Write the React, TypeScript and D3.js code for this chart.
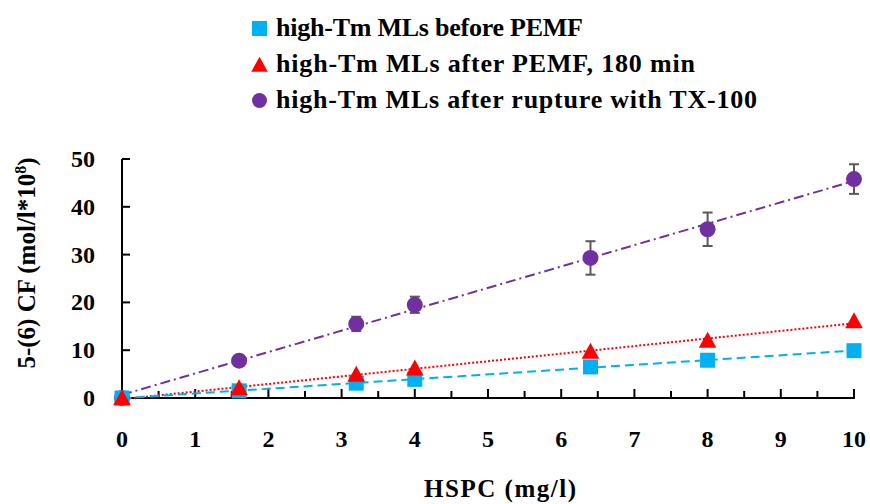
import React from "react";
import * as d3 from "d3";

const xValues = [0, 1.6, 3.2, 4, 6.4, 8, 10];
const beforePEMF = [0, 1.5, 3.1, 3.9, 6.5, 7.9, 9.9];
const afterPEMF = [0, 2.1, 4.9, 6.2, 9.7, 12.0, 16.1];
const afterTX = [0, 7.8, 15.5, 19.5, 29.3, 35.3, 45.8];
const afterTXErr = [0, 0.6, 1.5, 1.7, 3.5, 3.5, 3.1];
const xTicks = [0, 1, 2, 3, 4, 5, 6, 7, 8, 9, 10];
const yTicks = [0, 10, 20, 30, 40, 50];
const legendLabels = [
  "high-Tm MLs before PEMF",
  "high-Tm MLs after PEMF, 180 min",
  "high-Tm MLs after rupture with TX-100",
];

// layout: rendered widths of legend rows in the reference
const legendWidths = [307, 419, 481];

const BLUE = "#00B0F0";
const RED = "#FF0000";
const PURPLE = "#7030A0";
const FONT = "'Liberation Serif', 'Times New Roman', serif";

function fit(xs: number[], ys: number[]) {
  const mx = d3.mean(xs)!;
  const my = d3.mean(ys)!;
  let num = 0, den = 0;
  xs.forEach((x, i) => { num += (x - mx) * (ys[i] - my); den += (x - mx) ** 2; });
  const b = num / den;
  return { a: my - b * mx, b };
}

export default function App() {
  const x = d3.scaleLinear().domain([0, 10]).range([122, 854]);
  const y = d3.scaleLinear().domain([0, 50]).range([398, 159]);
  const minor = d3.range(0.5, 10, 1);

  const trend = (ys: number[], color: string, dash: string, w: number) => {
    const { a, b } = fit(xValues, ys);
    const line = d3.line<number>().x((d) => x(d)).y((d) => y(a + b * d));
    return <path d={line([0, 10])!} stroke={color} strokeWidth={w} strokeDasharray={dash} fill="none" />;
  };

  const tri = (cx: number, cy: number, s: number) =>
    `M${cx},${cy - s * 0.55}L${cx + s * 0.55},${cy + s * 0.45}L${cx - s * 0.55},${cy + s * 0.45}Z`;

  return (
    <svg width={870} height={504} style={{ position: "absolute", left: 0, top: 0, background: "#fff" }}>
      {/* axes */}
      <line x1={x(0)} x2={x(10)} y1={y(0)} y2={y(0)} stroke="#000" strokeWidth={2} />
      <line x1={x(0)} x2={x(0)} y1={y(0)} y2={y(50)} stroke="#000" strokeWidth={2} />
      {xTicks.map((t) => (
        <line key={"xt" + t} x1={x(t)} x2={x(t)} y1={y(0) + 1} y2={y(0) - 9} stroke="#000" strokeWidth={2} />
      ))}
      {minor.map((t) => (
        <line key={"xm" + t} x1={x(t)} x2={x(t)} y1={y(0)} y2={y(0) - 7} stroke="#000" strokeWidth={2} />
      ))}
      {yTicks.map((t) => (
        <line key={"yt" + t} x1={x(0)} x2={x(0) + 8} y1={y(t)} y2={y(t)} stroke="#000" strokeWidth={2} />
      ))}
      {xTicks.map((t) => (
        <text key={"xl" + t} x={x(t)} y={447} textAnchor="middle" fontFamily={FONT} fontWeight="bold" fontSize={24}>{t}</text>
      ))}
      {yTicks.map((t) => (
        <text key={"yl" + t} x={95} y={y(t) + 8} textAnchor="end" fontFamily={FONT} fontWeight="bold" fontSize={24}>{t}</text>
      ))}
      <text x={500} y={497} textAnchor="middle" fontFamily={FONT} fontWeight="bold" fontSize={25} textLength={152} lengthAdjust="spacing">HSPC (mg/l)</text>
      <text transform="translate(35,263) rotate(-90)" textAnchor="middle" fontFamily={FONT} fontWeight="bold" fontSize={25}>
        5-(6) CF (mol/l*10<tspan dy={-9} fontSize={16}>8</tspan><tspan dy={9}>)</tspan>
      </text>

      {/* trend lines */}
      {trend(afterTX, PURPLE, "10 4 2 4", 2)}
      {trend(afterPEMF, RED, "2 2", 2)}
      {trend(beforePEMF, BLUE, "9 5", 2)}

      {/* error bars */}
      {xValues.map((xv, i) =>
        afterTXErr[i] > 0 ? (
          <g key={"eb" + i} stroke="#595959" strokeWidth={2}>
            <line x1={x(xv)} x2={x(xv)} y1={y(afterTX[i] - afterTXErr[i])} y2={y(afterTX[i] + afterTXErr[i])} />
            <line x1={x(xv) - 5} x2={x(xv) + 5} y1={y(afterTX[i] - afterTXErr[i])} y2={y(afterTX[i] - afterTXErr[i])} />
            <line x1={x(xv) - 5} x2={x(xv) + 5} y1={y(afterTX[i] + afterTXErr[i])} y2={y(afterTX[i] + afterTXErr[i])} />
          </g>
        ) : null
      )}

      {/* markers */}
      {xValues.map((xv, i) => (
        <circle key={"c" + i} cx={x(xv)} cy={y(afterTX[i])} r={8} fill={PURPLE} />
      ))}
      {xValues.map((xv, i) => (
        <rect key={"s" + i} x={x(xv) - 7.5} y={y(beforePEMF[i]) - 7.5} width={15} height={15} fill={BLUE} />
      ))}
      {xValues.map((xv, i) => (
        <path key={"t" + i} d={tri(x(xv), y(afterPEMF[i]), 16)} fill={RED} />
      ))}

      {/* legend */}
      <rect x={252} y={21} width={15} height={15} fill={BLUE} />
      <path d={tri(259.5, 65, 15)} fill={RED} />
      <circle cx={259.5} cy={100.5} r={7.5} fill={PURPLE} />
      {legendLabels.map((l, i) => (
        <text key={"lg" + i} x={276} y={36 + i * 36} fontFamily={FONT} fontWeight="bold" fontSize={26}
          textLength={legendWidths[i]} lengthAdjust="spacing">{l}</text>
      ))}
    </svg>
  );
}
